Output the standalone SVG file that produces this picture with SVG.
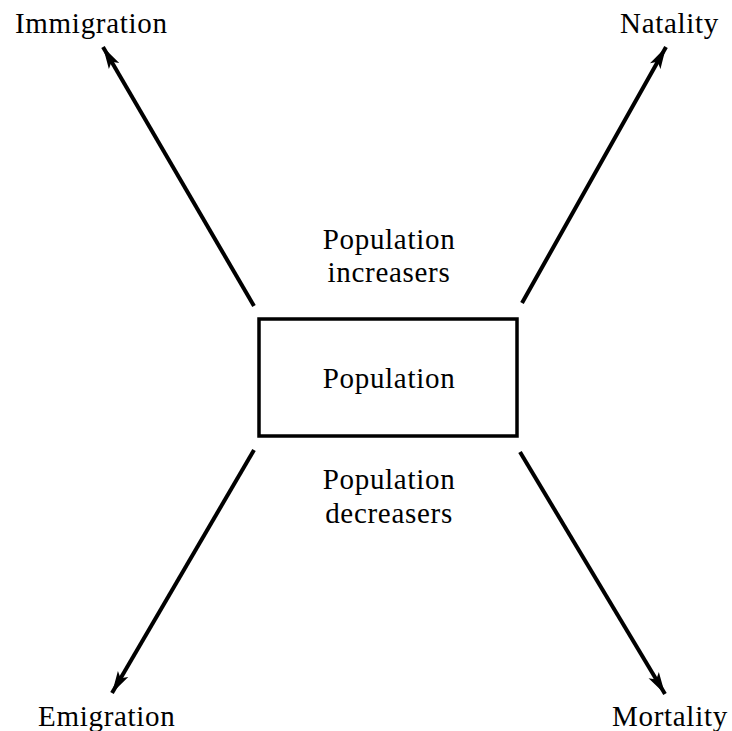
<svg xmlns="http://www.w3.org/2000/svg" width="732" height="731" viewBox="0 0 732 731">
<style>
text{font-family:"Liberation Serif","Times New Roman",serif;font-size:29px;fill:#000;letter-spacing:0.7px}
.c{text-anchor:middle}
.ln{stroke:#000;stroke-width:4;fill:none;marker-end:url(#ah)}
</style>
<defs>
<marker id="ah" markerUnits="userSpaceOnUse" markerWidth="24" markerHeight="14" refX="22" refY="7" orient="auto">
<path d="M0,1 L22,7 L0,13 L5,7 Z" fill="#000"/>
</marker>
</defs>
<rect width="732" height="731" fill="#fff"/>
<g id="connectors">
<line class="ln" x1="254" y1="306" x2="103" y2="47"/>
<line class="ln" x1="522" y1="303" x2="666" y2="47"/>
<line class="ln" x1="254" y1="450" x2="112" y2="693"/>
<line class="ln" x1="520" y1="452" x2="665" y2="694"/>
</g>
<g id="population">
<rect x="259" y="319" width="258" height="117" fill="none" stroke="#000" stroke-width="3.5"/>
<text class="c" x="389" y="388">Population</text>
</g>
<g id="increasers">
<text class="c" x="389" y="249">Population</text>
<text class="c" x="389" y="282">increasers</text>
</g>
<g id="decreasers">
<text class="c" x="389" y="489">Population</text>
<text class="c" x="389" y="523">decreasers</text>
</g>
<g id="immigration"><text x="15" y="33">Immigration</text></g>
<g id="natality"><text x="620" y="33">Natality</text></g>
<g id="emigration"><text x="38" y="726">Emigration</text></g>
<g id="mortality"><text x="612" y="726">Mortality</text></g>
</svg>
